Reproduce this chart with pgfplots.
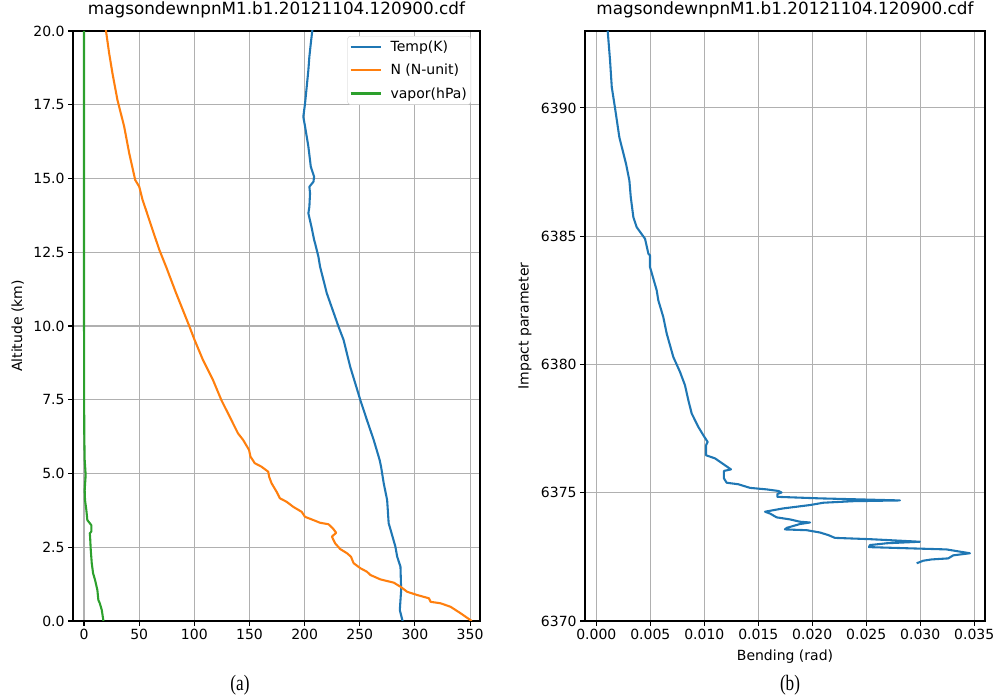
\documentclass[border=0pt]{standalone}
\usepackage{fontspec}
\setmainfont{DejaVu Sans}
\newfontfamily\timesfont{Liberation Serif}
\usepackage{pgfplots}
\pgfplotsset{compat=1.18}
\definecolor{tabblue}{HTML}{1F77B4}
\definecolor{taborange}{HTML}{FF7F0E}
\definecolor{tabgreen}{HTML}{2CA02C}
\definecolor{gridgray}{HTML}{B0B0B0}
\pgfplotsset{
  mplstyle/.style={
    scale only axis,
    axis line style={line width=1.1pt},
    grid=major,
    major grid style={line width=1.1pt, gridgray},
    tick align=outside,
    major tick length=4.9pt,
    tick style={black, line width=1.1pt},
    tick pos=left,
    tick label style={font=\fontsize{14}{16}\selectfont},
    label style={font=\fontsize{14}{16}\selectfont},
    /pgf/number format/assume math mode=true,
    title style={font=\fontsize{16.8}{19}\selectfont, at={(0.5,1)}, anchor=base, yshift=10pt},
    every axis plot/.append style={line width=2.08pt, line join=round},
  }
}
\begin{document}
\begin{tikzpicture}
\useasboundingbox (0,0) rectangle (995pt,700pt);
\begin{axis}[mplstyle, at={(73pt,79pt)}, anchor=south west, width=407pt, height=590pt,
  xmin=-10, xmax=359, ymin=0, ymax=20,
  xtick={0,50,100,150,200,250,300,350},
  ytick={0,2.5,5,7.5,10,12.5,15,17.5,20},
  yticklabel style={/pgf/number format/.cd, fixed, fixed zerofill, precision=1},
  title={magsondewnpnM1.b1.20121104.120900.cdf},
  ylabel={Altitude (km)},
  ylabel style={at={(axis description cs:-0.136,0.5)}, anchor=center},
  legend style={at={(axis description cs:0.978,0.9915)}, anchor=north east, draw=gray!40, rounded corners=3pt,
    font=\fontsize{14}{16}\selectfont, cells={anchor=west}, inner xsep=2pt, inner ysep=3pt, row sep=7pt,
    column sep=7pt, nodes={inner sep=2pt}},
  legend image code/.code={\draw[#1] (0pt,0pt) -- (30pt,0pt);},
]
\addplot[tabblue] coordinates {(288.8,0.0) (286.3,0.37) (287.5,1.05) (286.9,1.84) (283.9,2.18) (282.3,2.52) (277.1,3.2) (276.2,3.31) (274.8,4.1) (271.7,4.67) (269.3,5.23) (268,5.46) (262.6,6.14) (256.5,6.81) (250.5,7.49) (241.3,8.62) (235.3,9.53) (230.7,9.98) (220.1,11.11) (214,12.01) (212.5,12.35) (209.5,12.8) (208.6,12.92) (206.5,13.31) (203.4,13.82) (204.3,14.04) (204.9,14.5) (204.3,14.72) (208,14.89) (208.6,15.06) (205.6,15.4) (203.4,16.08) (200.4,16.76) (198.8,17.09) (200.4,17.55) (201.9,18.11) (203.4,18.68) (204.3,19.13) (205.6,19.58) (207,20.03)};
\addlegendentry{Temp(K)}
\addplot[taborange] coordinates {(351.5,0.0) (341.5,0.26) (332.4,0.48) (323.3,0.6) (314.2,0.65) (312.7,0.77) (302.1,0.88) (293,0.99) (286.9,1.16) (280.8,1.3) (268.7,1.41) (259.6,1.56) (256.5,1.67) (250.5,1.79) (244.4,1.96) (242,2.18) (238.3,2.3) (232.2,2.44) (227.7,2.63) (224.7,2.86) (228.6,2.99) (225.6,3.14) (221.6,3.28) (214,3.33) (208,3.42) (200.4,3.53) (197.3,3.7) (189.7,3.87) (183.7,4.04) (177.6,4.16) (174.6,4.38) (170,4.67) (167.8,4.89) (167,5.06) (160.9,5.23) (154.8,5.35) (150.9,5.57) (149.6,5.8) (144.2,6.14) (139.6,6.36) (133.6,6.81) (124.5,7.49) (116.9,8.17) (107.8,8.85) (100.2,9.53) (95.6,9.98) (83.5,11.11) (74.4,12.01) (68.3,12.58) (62.2,13.25) (56.2,13.93) (53.1,14.27) (50.1,14.72) (46.4,14.95) (41,15.85) (36.4,16.76) (30.3,17.66) (25.8,18.56) (22.8,19.24) (19.8,20.03)};
\addlegendentry{N (N-unit)}
\addplot[tabgreen] coordinates {(17.6,0.0) (16.1,0.37) (14.3,0.6) (13,0.71) (12.1,1.05) (10,1.39) (8.2,1.62) (7,1.96) (6.1,2.41) (5.5,2.86) (5.2,2.97) (6.6,3.03) (6.6,3.25) (3,3.42) (2.1,3.76) (0.9,4.1) (0.6,4.44) (1.5,4.95) (0.6,5.46) (0.2,6.4) (0.1,8) (0,10) (0,15) (0,20)};
\addlegendentry{vapor(hPa)}
\end{axis}
\begin{axis}[mplstyle, at={(585pt,79pt)}, anchor=south west, width=400pt, height=590pt,
  xmin=-0.00105, xmax=0.036, ymin=6370, ymax=6393,
  xtick={0,0.005,0.01,0.015,0.02,0.025,0.03,0.035},
  scaled x ticks=false,
  xticklabel style={/pgf/number format/.cd, fixed, fixed zerofill, precision=3},
  ytick={6370,6375,6380,6385,6390},
  yticklabel style={/pgf/number format/.cd, 1000 sep={}},
  title={magsondewnpnM1.b1.20121104.120900.cdf},
  ylabel={Impact parameter},
  ylabel style={at={(axis description cs:-0.15,0.5)}, anchor=center},
  xlabel={Bending (rad)},
  xlabel style={at={(axis description cs:0.5,-0.061)}, anchor=center},
]
\addplot[tabblue] coordinates {(0.00105,6393.01) (0.00127,6391.85) (0.00143,6390.81) (0.00173,6390.0) (0.00213,6388.86) (0.00275,6387.82) (0.00306,6387.17) (0.00319,6386.52) (0.00343,6385.74) (0.00374,6385.35) (0.00451,6384.9) (0.00482,6384.32) (0.00497,6384.25) (0.00497,6383.8) (0.00559,6382.89) (0.00574,6382.5) (0.0062,6381.85) (0.00652,6381.2) (0.00713,6380.29) (0.00775,6379.71) (0.00821,6379.19) (0.00852,6378.61) (0.00883,6378.09) (0.00944,6377.57) (0.00991,6377.24) (0.01031,6376.98) (0.01016,6376.85) (0.01016,6376.46) (0.01099,6376.34) (0.01192,6376.07) (0.01247,6375.91) (0.01182,6375.85) (0.01182,6375.56) (0.01207,6375.39) (0.01315,6375.33) (0.01423,6375.19) (0.01578,6375.13) (0.01685,6375.07) (0.01716,6375.01) (0.01676,6374.95) (0.01676,6374.84) (0.02071,6374.78) (0.02812,6374.7) (0.0238,6374.67) (0.02102,6374.61) (0.01979,6374.52) (0.01732,6374.39) (0.01562,6374.26) (0.01608,6374.19) (0.0167,6374.04) (0.01794,6373.96) (0.01886,6373.87) (0.01979,6373.84) (0.01886,6373.78) (0.01763,6373.63) (0.01747,6373.57) (0.01948,6373.54) (0.02071,6373.45) (0.02148,6373.35) (0.0221,6373.24) (0.02534,6373.19) (0.02997,6373.09) (0.02689,6373.03) (0.02534,6372.96) (0.02525,6372.88) (0.02843,6372.84) (0.03244,6372.79) (0.0346,6372.64) (0.03306,6372.56) (0.03259,6372.44) (0.03105,6372.4) (0.03028,6372.35) (0.02967,6372.25)};
\end{axis}
\node[font=\timesfont\fontsize{22}{24}\selectfont, xscale=0.78] at (240pt,15pt) {(a)};
\node[font=\timesfont\fontsize{22}{24}\selectfont, xscale=0.78] at (790pt,15pt) {(b)};
\end{tikzpicture}
\end{document}
